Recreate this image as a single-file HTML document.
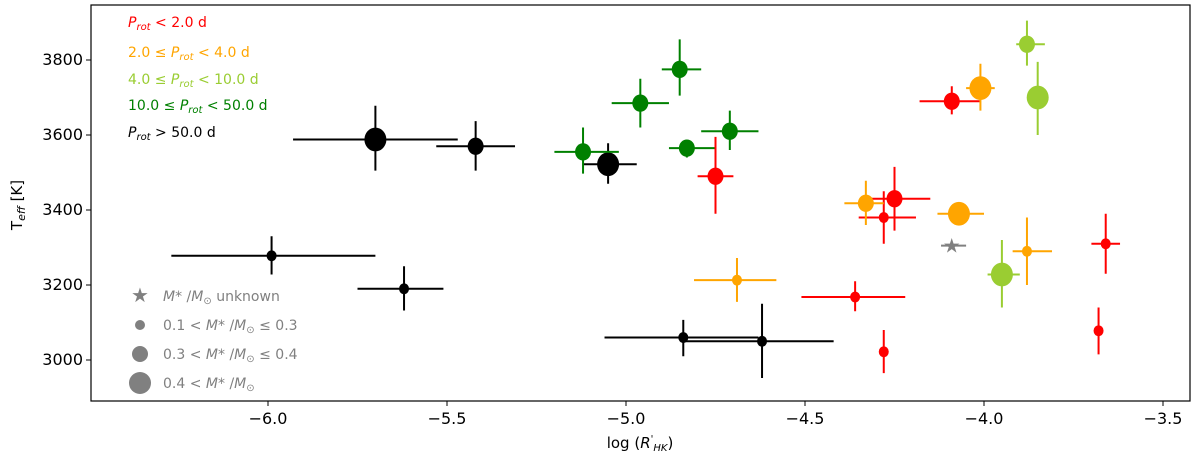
<!DOCTYPE html>
<html><head><meta charset="utf-8"><style>
body{margin:0;background:#fff;}
svg text{font-family:"DejaVu Sans","Liberation Sans",sans-serif;}
</style></head><body>
<svg id="chart" width="1200" height="458" xmlns="http://www.w3.org/2000/svg">
<rect x="91" y="5" width="1099" height="396" fill="none" stroke="#000" stroke-width="1.2"/>
<g id="axes"></g>
<g id="marks"></g>
<g font-size="14">
<text x="128" y="27" fill="red"><tspan font-style="italic">P<tspan font-size="10" dy="3">rot</tspan></tspan><tspan dy="-3"> &lt; 2.0 d</tspan></text>
<text x="128" y="57" fill="orange">2.0 ≤ <tspan font-style="italic">P<tspan font-size="10" dy="3">rot</tspan></tspan><tspan dy="-3"> &lt; 4.0 d</tspan></text>
<text x="128" y="84" fill="yellowgreen">4.0 ≤ <tspan font-style="italic">P<tspan font-size="10" dy="3">rot</tspan></tspan><tspan dy="-3"> &lt; 10.0 d</tspan></text>
<text x="128" y="110" fill="green">10.0 ≤ <tspan font-style="italic">P<tspan font-size="10" dy="3">rot</tspan></tspan><tspan dy="-3"> &lt; 50.0 d</tspan></text>
<text x="128" y="137" fill="#000"><tspan font-style="italic">P<tspan font-size="10" dy="3">rot</tspan></tspan><tspan dy="-3"> &gt; 50.0 d</tspan></text>
</g>
<g font-size="14" fill="gray">
<text x="140" y="302" text-anchor="middle" font-size="20">★</text>
<text x="163" y="301"><tspan font-style="italic">M</tspan>* /<tspan font-style="italic">M</tspan><tspan font-size="10" dy="3">⊙</tspan><tspan dy="-3"> unknown</tspan></text>
<circle cx="140" cy="325" r="5"/>
<text x="163" y="330">0.1 &lt; <tspan font-style="italic">M</tspan>* /<tspan font-style="italic">M</tspan><tspan font-size="10" dy="3">⊙</tspan><tspan dy="-3"> ≤ 0.3</tspan></text>
<circle cx="140" cy="354" r="8"/>
<text x="163" y="359">0.3 &lt; <tspan font-style="italic">M</tspan>* /<tspan font-style="italic">M</tspan><tspan font-size="10" dy="3">⊙</tspan><tspan dy="-3"> ≤ 0.4</tspan></text>
<circle cx="140" cy="383" r="11"/>
<text x="163" y="388">0.4 &lt; <tspan font-style="italic">M</tspan>* /<tspan font-style="italic">M</tspan><tspan font-size="10" dy="3">⊙</tspan></text>
</g>
<text x="640" y="448" text-anchor="middle" font-size="15">log (<tspan font-style="italic">R</tspan><tspan font-size="10" dy="-6">'</tspan><tspan font-size="10" font-style="italic" dy="9">HK</tspan><tspan dy="-3">)</tspan></text>
<text transform="translate(22,205) rotate(-90)" text-anchor="middle" font-size="15">T<tspan font-size="11" font-style="italic" dy="3">eff</tspan><tspan dy="-3"> [K]</tspan></text>
</svg>
<script>
const xTicks=[-6.0,-5.5,-5.0,-4.5,-4.0,-3.5];
const xTickLabels=["−6.0","−5.5","−5.0","−4.5","−4.0","−3.5"];
const yTicks=[3000,3200,3400,3600,3800];
const yTickLabels=["3000","3200","3400","3600","3800"];
const colorMap={r:"red",o:"orange",y:"yellowgreen",g:"green",k:"black"};
const logR=[-5.70,-5.42,-5.05,-5.99,-5.62,-4.84,-4.62,-5.12,-4.96,-4.85,-4.83,-4.71,-4.75,-4.25,-4.28,-4.36,-4.28,-4.09,-3.66,-3.68,-4.33,-4.69,-4.07,-4.01,-3.88,-3.88,-3.85,-3.95];
const xLo=[-5.93,-5.53,-5.12,-6.27,-5.75,-5.06,-4.84,-5.20,-5.04,-4.90,-4.88,-4.79,-4.80,-4.32,-4.35,-4.51,-4.28,-4.18,-3.70,-3.68,-4.39,-4.81,-4.13,-4.05,-3.92,-3.91,-3.87,-3.99];
const xHi=[-5.47,-5.31,-4.97,-5.70,-5.51,-4.63,-4.42,-5.02,-4.88,-4.79,-4.75,-4.63,-4.70,-4.15,-4.19,-4.22,-4.28,-4.01,-3.62,-3.68,-4.28,-4.58,-4.00,-3.97,-3.81,-3.83,-3.82,-3.90];
const teff=[3588,3570,3522,3278,3190,3060,3050,3555,3685,3775,3565,3610,3490,3430,3380,3168,3022,3690,3310,3078,3418,3213,3390,3725,3290,3842,3700,3228];
const tLo=[3505,3505,3470,3228,3132,3010,2952,3497,3620,3705,3540,3560,3390,3345,3310,3130,2965,3655,3230,3015,3360,3155,3390,3665,3200,3785,3600,3140];
const tHi=[3678,3637,3578,3330,3250,3107,3150,3620,3750,3855,3565,3665,3595,3515,3450,3210,3080,3730,3390,3140,3478,3272,3390,3790,3380,3905,3795,3320];
const periodClass=["k","k","k","k","k","k","k","g","g","g","g","g","r","r","r","r","r","r","r","r","o","o","o","o","o","y","y","y"];
const massClass=[3,2,3,1,1,1,1,2,2,2,2,2,2,2,1,1,1,2,1,1,2,1,3,3,1,2,3,3];
const starLogR=[-4.09], starTeff=[3305], starLo=[-4.12], starHi=[-4.05];
const X=v=>268+(v+6)*358, Y=t=>60+(3800-t)*0.375;
const NS="http://www.w3.org/2000/svg";
function mk(tag,attrs,parent){const e=document.createElementNS(NS,tag);for(const k in attrs)e.setAttribute(k,attrs[k]);parent.appendChild(e);return e;}
const axes=document.getElementById('axes'),marks=document.getElementById('marks');
xTicks.forEach((v,i)=>{
 const t=mk('line',{x1:X(v),x2:X(v),y1:401,y2:406,stroke:'#000'},axes);
 
 
 const l=mk('text',{x:X(v),y:424,'text-anchor':'middle','font-size':16},axes);l.textContent=xTickLabels[i];
 
 
});
yTicks.forEach((v,i)=>{
 const t=mk('line',{x1:86,x2:91,y1:Y(v),y2:Y(v),stroke:'#000'},axes);
 
 
 const l=mk('text',{x:83,y:Y(v)+5,'text-anchor':'end','font-size':16},axes);l.textContent=yTickLabels[i];
 
 
});
const radii={1:5,2:8,3:11};
logR.forEach((v,i)=>{
 const c=colorMap[periodClass[i]];
 const g=mk('g',{},marks);
 
 
 mk('line',{x1:X(xLo[i]),x2:X(xHi[i]),y1:Y(teff[i]),y2:Y(teff[i]),stroke:c,'stroke-width':2},g);
 mk('line',{x1:X(v),x2:X(v),y1:Y(tLo[i]),y2:Y(tHi[i]),stroke:c,'stroke-width':2},g);
 mk('ellipse',{cx:X(v),cy:Y(teff[i]),rx:radii[massClass[i]],ry:radii[massClass[i]]*1.08,fill:c},g);
});
starLogR.forEach((v,i)=>{
 const g=mk('g',{},marks);
 
 
 mk('line',{x1:X(starLo[i]),x2:X(starHi[i]),y1:Y(starTeff[i]),y2:Y(starTeff[i]),stroke:'gray','stroke-width':2},g);
 const s=mk('text',{x:X(v),y:Y(starTeff[i])+7,'text-anchor':'middle','font-size':20,fill:'gray'},g);s.textContent='★';
});
</script>
</body></html>
